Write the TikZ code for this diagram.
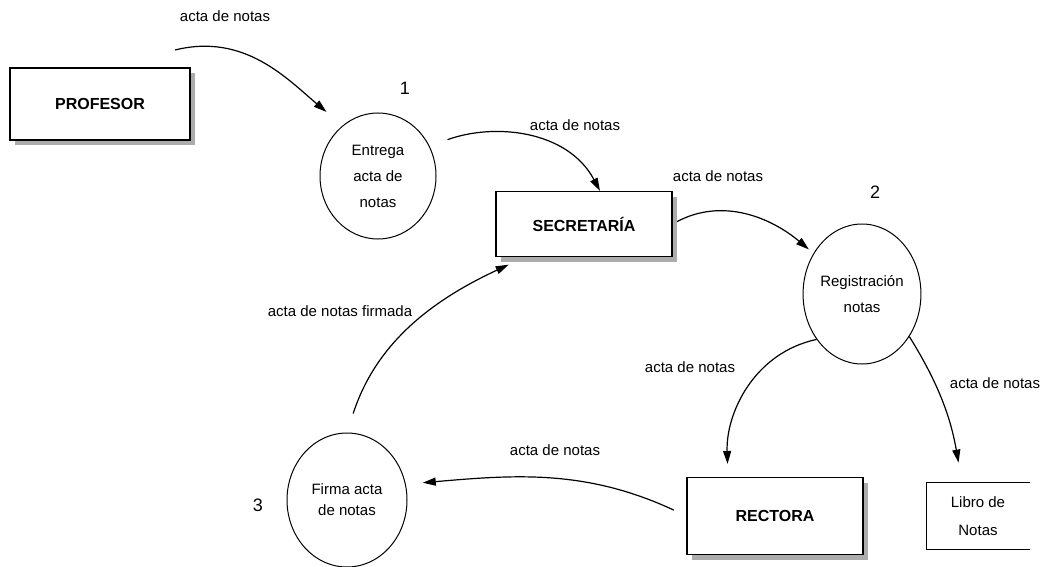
\documentclass[tikz,border=0pt]{standalone}
\usepackage{fontspec}
\setmainfont{Liberation Sans}
\usetikzlibrary{shapes.geometric,shadows,arrows.meta,calc}
\begin{document}
\begin{tikzpicture}[x=1pt,y=-1pt,
  lbl/.style={font=\fontsize{15}{17}\selectfont, inner sep=0pt},
  num/.style={font=\fontsize{18}{20}\selectfont, inner sep=0pt},
  entity/.style={draw, line width=1.1pt, fill=white, font=\fontsize{16}{18}\selectfont\bfseries,
    drop shadow={shadow xshift=5pt, shadow yshift=-5pt, fill=gray!65, opacity=1}},
  proc/.style={draw, ellipse, line width=1pt, align=center, inner sep=0pt,
    font=\fontsize{15}{26}\selectfont},
  flow/.style={line width=1.2pt, -{Triangle[length=13pt,width=8pt]}}]
\useasboundingbox (0,0) rectangle (1044,567);
% entities
\node[entity, minimum width=180pt, minimum height=72pt] (prof) at (100,104) {PROFESOR};
\node[entity, minimum width=176pt, minimum height=65pt] (sec) at (584,224) {SECRETARÍA};
\node[entity, minimum width=176pt, minimum height=77pt] (rect) at (775,516) {RECTORA};
% data store
\node[minimum width=103pt, minimum height=67pt, align=center, inner sep=0pt,
  font=\fontsize{15}{28}\selectfont] (libro) at (978,516) {Libro de\\Notas};
\draw[line width=1.1pt] (libro.north east) -- (libro.north west) -- (libro.south west) -- (libro.south east);
% processes
\node[proc, minimum width=116pt, minimum height=126pt] (e1) at (378,176) {Entrega\\acta de\\notas};
\node[proc, minimum width=114pt, minimum height=140pt] (e2) at (862,294) {Registración\\notas};
\node[proc, minimum width=120pt, minimum height=134pt, font=\fontsize{15}{21}\selectfont] (e3) at (347,500) {Firma acta\\de notas};
% numbers
\node[num] (n1) at (405,88) {1};
\node[num] (n2) at (875,192) {2};
\node[num] (n3) at (258,505) {3};
% free start
\coordinate (src) at (175,50);
% flows
\draw[flow, shorten >=21pt] (src) to[out=14, in=140] (e1.125);
\draw[flow, shorten <=19pt] (e1.30) to[out=20, in=118] ([xshift=16pt]sec.north);
\draw[flow, shorten <=5pt, shorten >=6pt] (sec.east) to[out=28, in=140] (e2.140);
\draw[flow, shorten >=13pt] (e2.225) to[out=192, in=92] ([xshift=-47pt]rect.north);
\draw[flow, shorten >=20pt] (e2.318) to[out=-58, in=100] ([xshift=-16pt]libro.north);
\draw[flow, shorten <=14pt, shorten >=17pt] (rect.west) to[out=155, in=5] (e3.15);
\draw[flow, shorten <=20pt, shorten >=18pt] (e3.north) to[out=72, in=205] ([xshift=-59pt]sec.south);
% labels
\node[lbl] (l1) at (225,16) {acta de notas};
\node[lbl] (l2) at (575,125) {acta de notas};
\node[lbl] (l3) at (718,176) {acta de notas};
\node[lbl] (l4) at (340,311) {acta de notas firmada};
\node[lbl] (l5) at (690,367) {acta de notas};
\node[lbl] (l6) at (995,383) {acta de notas};
\node[lbl] (l7) at (555,450) {acta de notas};
\end{tikzpicture}
\end{document}
